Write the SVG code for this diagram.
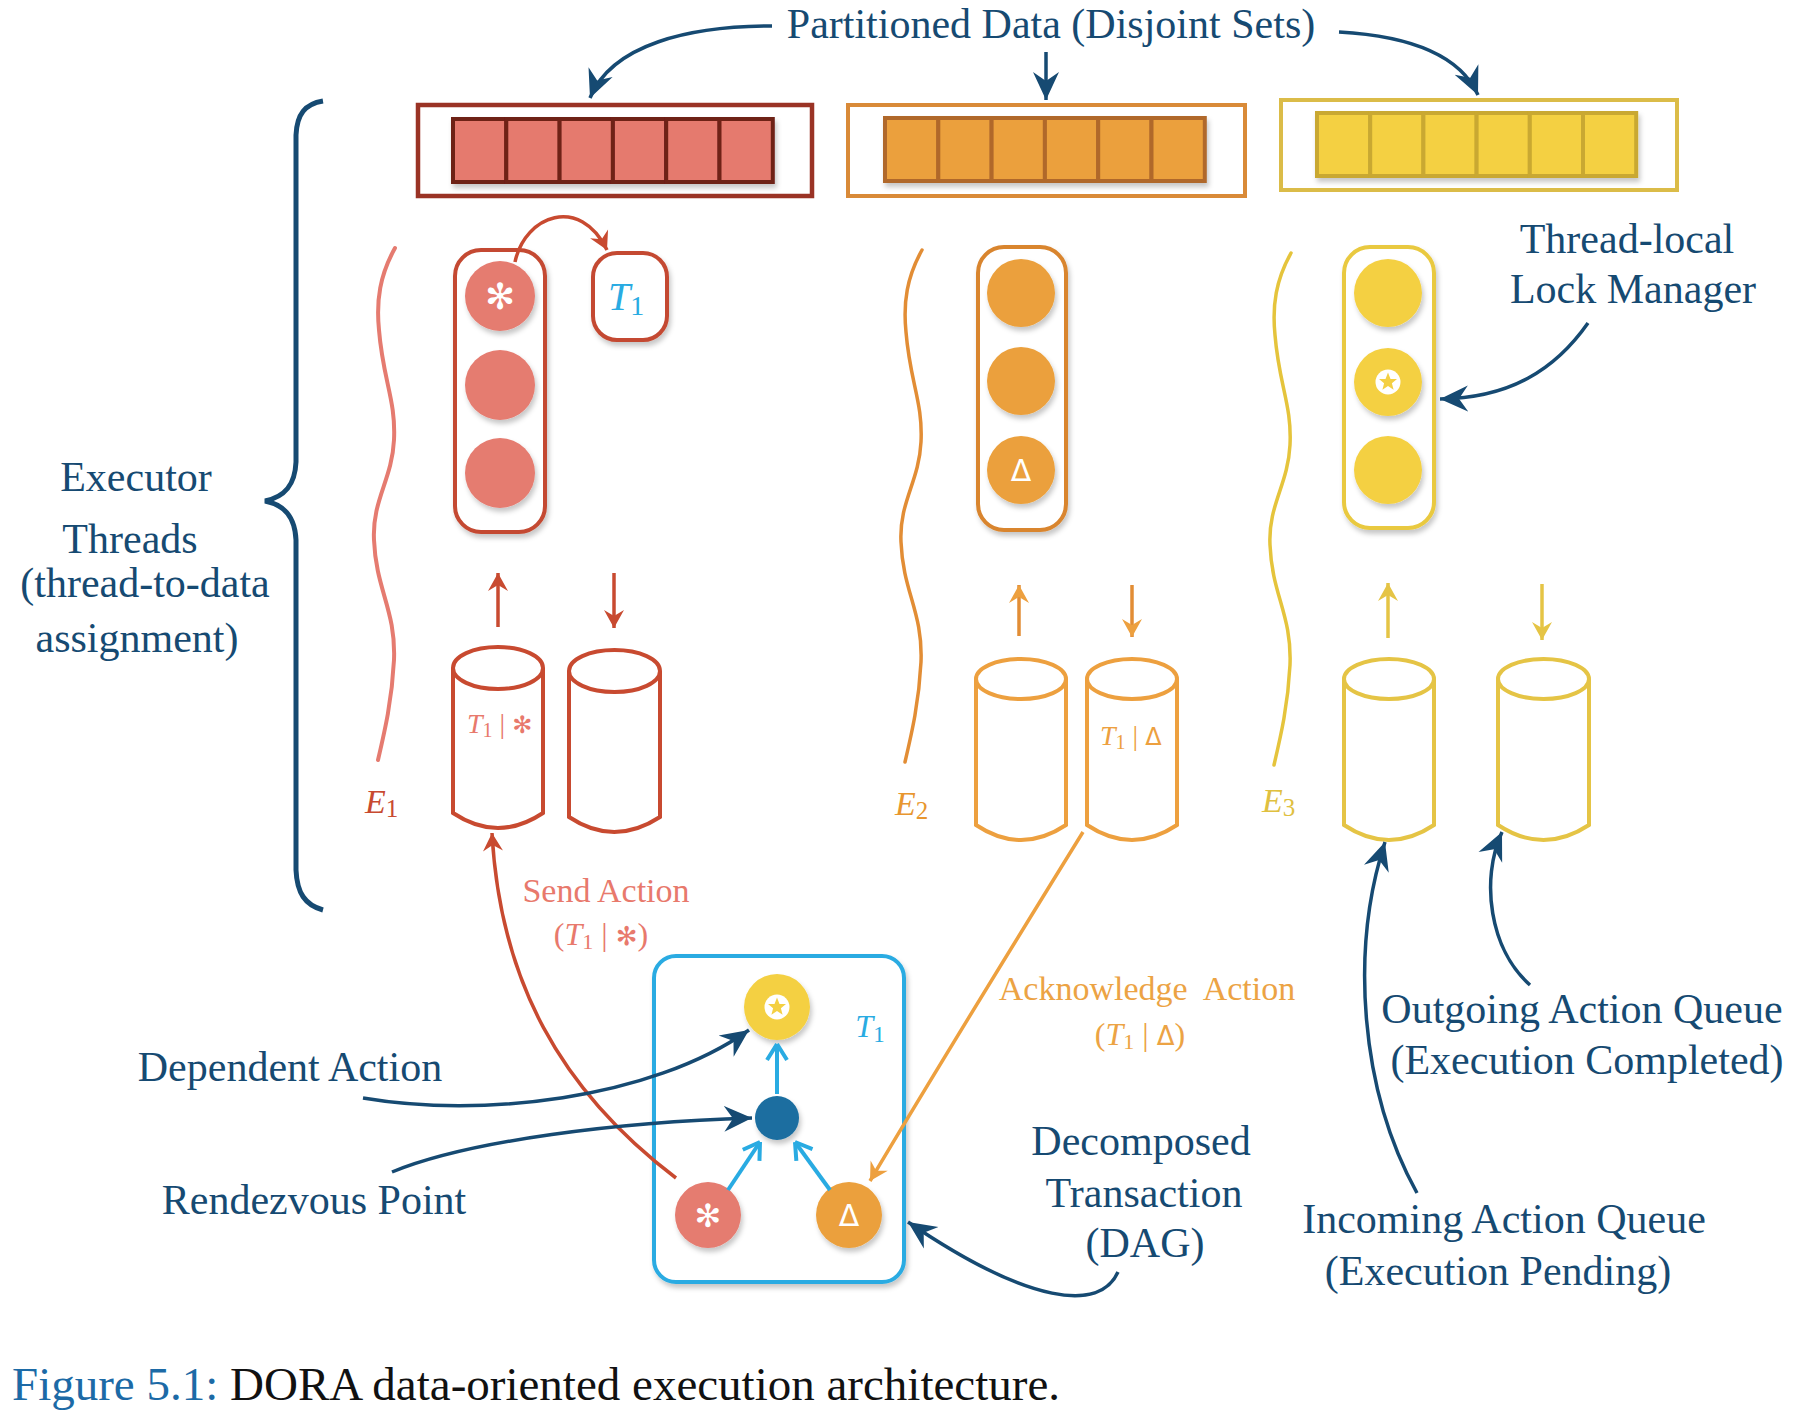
<svg xmlns="http://www.w3.org/2000/svg" width="1807" height="1420" viewBox="0 0 1807 1420">
<defs>
<style>
.t{font-family:"Liberation Serif","Times New Roman",serif;fill:#164a72;font-size:42px;text-anchor:middle}
.m{font-family:"Liberation Serif","Times New Roman",serif}
.sym{font-family:"DejaVu Sans",sans-serif}
.cylR{fill:none;stroke:#c84a30;stroke-width:4}
.cylO{fill:none;stroke:#eda03f;stroke-width:4}
.cylY{fill:none;stroke:#e5c445;stroke-width:4}
.cellR{fill:#e57a6e;stroke:#6e2018;stroke-width:4}
.cellO{fill:#eba03c;stroke:#b0682a;stroke-width:4}
.cellY{fill:#f4d043;stroke:#c9a830;stroke-width:4}
.cR{fill:#e57b70}
.cO{fill:#eba03c}
.cY{fill:#f4d043}
.db{fill:none;stroke:#164a72;stroke-width:3.5}
.lb{fill:none;stroke:#29abe2;stroke-width:4}
</style>
<filter id="sh" x="-20%" y="-20%" width="140%" height="140%">
<feDropShadow dx="2" dy="4" stdDeviation="2.5" flood-color="#000" flood-opacity="0.22"/>
</filter>
<marker id="mB" viewBox="-28 -14 30 28" refX="0" refY="0" markerWidth="30" markerHeight="28" orient="auto" markerUnits="userSpaceOnUse">
<path d="M0,0 L-28,-13 L-19,0 L-28,13 Z" fill="#164a72"/>
</marker>
<marker id="mR" viewBox="-20 -12 22 24" refX="0" refY="0" markerWidth="22" markerHeight="24" orient="auto" markerUnits="userSpaceOnUse">
<path d="M0,0 L-18,-10 L-12,0 L-18,10 Z" fill="#c84a30"/>
</marker>
<marker id="mO" viewBox="-20 -12 22 24" refX="0" refY="0" markerWidth="22" markerHeight="24" orient="auto" markerUnits="userSpaceOnUse">
<path d="M0,0 L-18,-10 L-12,0 L-18,10 Z" fill="#eda03f"/>
</marker>
<marker id="mY" viewBox="-20 -12 22 24" refX="0" refY="0" markerWidth="22" markerHeight="24" orient="auto" markerUnits="userSpaceOnUse">
<path d="M0,0 L-18,-10 L-12,0 L-18,10 Z" fill="#e5c445"/>
</marker>
<marker id="mL" viewBox="-20 -12 22 24" refX="0" refY="0" markerWidth="22" markerHeight="24" orient="auto" markerUnits="userSpaceOnUse">
<path d="M0,0 L-16,-10 M0,0 L-16,10" fill="none" stroke="#29abe2" stroke-width="4"/>
</marker>
<g id="star">
<circle r="12.5" fill="#fff"/>
<polygon points="0,-9.5 2.5,-3.1 9,-2.9 3.9,1.2 5.6,7.7 0,4 -5.6,7.7 -3.9,1.2 -9,-2.9 -2.5,-3.1" fill="#f4d043"/>
</g>
</defs>
<rect width="1807" height="1420" fill="#fff"/>

<!-- Title -->
<g id="title">
<text class="t" x="1051" y="38" font-size="42">Partitioned Data (Disjoint Sets)</text>
</g>

<!-- Data partitions -->
<g id="data-red">
<rect x="418" y="105" width="394" height="91" fill="#fff" stroke="#9a3325" stroke-width="4.5"/>
<g filter="url(#sh)">
<rect class="cellR" x="453" y="119" width="53.3" height="63"/>
<rect class="cellR" x="506.3" y="119" width="53.3" height="63"/>
<rect class="cellR" x="559.6" y="119" width="53.3" height="63"/>
<rect class="cellR" x="612.9" y="119" width="53.3" height="63"/>
<rect class="cellR" x="666.2" y="119" width="53.3" height="63"/>
<rect class="cellR" x="719.5" y="119" width="53.3" height="63"/>
</g>
</g>
<g id="data-orange">
<rect x="848" y="105" width="397" height="91" fill="#fff" stroke="#d98a38" stroke-width="4"/>
<g filter="url(#sh)">
<rect class="cellO" x="885" y="118" width="53.3" height="63"/>
<rect class="cellO" x="938.3" y="118" width="53.3" height="63"/>
<rect class="cellO" x="991.6" y="118" width="53.3" height="63"/>
<rect class="cellO" x="1044.9" y="118" width="53.3" height="63"/>
<rect class="cellO" x="1098.2" y="118" width="53.3" height="63"/>
<rect class="cellO" x="1151.5" y="118" width="53.3" height="63"/>
</g>
</g>
<g id="data-yellow">
<rect x="1281" y="100" width="396" height="90" fill="#fff" stroke="#dbbc48" stroke-width="4"/>
<g filter="url(#sh)">
<rect class="cellY" x="1317" y="113" width="53.2" height="63"/>
<rect class="cellY" x="1370.2" y="113" width="53.2" height="63"/>
<rect class="cellY" x="1423.4" y="113" width="53.2" height="63"/>
<rect class="cellY" x="1476.6" y="113" width="53.2" height="63"/>
<rect class="cellY" x="1529.8" y="113" width="53.2" height="63"/>
<rect class="cellY" x="1583" y="113" width="53.2" height="63"/>
</g>
</g>

<!-- Executor brace and label -->
<g id="executor-threads">
<path d="M323,101 C305,104 297,114 296,135 L296,462 C295,485 285,497 265,501 C285,505 295,517 296,540 L296,870 C297,893 305,905 323,910" fill="none" stroke="#164a72" stroke-width="5"/>
<text class="t" x="136" y="491">Executor</text>
<text class="t" x="130" y="553">Threads</text>
<text class="t" x="145" y="597">(thread-to-data</text>
<text class="t" x="137" y="652">assignment)</text>
</g>

<!-- Executor squiggles -->
<g id="thread-E1">
<path d="M395,248 C380,275 376,300 379,330 C383,380 396,400 394,440 C392,480 372,500 374,540 C376,590 396,610 394,660 C392,700 385,730 378,760" fill="none" stroke="#e57b70" stroke-width="4" stroke-linecap="round"/>
<text class="m" x="365" y="813" font-size="34" font-style="italic" fill="#c84a30">E<tspan font-size="25" font-style="normal" dy="4">1</tspan></text>
</g>
<g id="thread-E2">
<path transform="translate(527,2)" d="M395,248 C380,275 376,300 379,330 C383,380 396,400 394,440 C392,480 372,500 374,540 C376,590 396,610 394,660 C392,700 385,730 378,760" fill="none" stroke="#e28d35" stroke-width="3.5" stroke-linecap="round"/>
<text class="m" x="895" y="815" font-size="34" font-style="italic" fill="#e8962f">E<tspan font-size="25" font-style="normal" dy="4">2</tspan></text>
</g>
<g id="thread-E3">
<path transform="translate(896,5)" d="M395,248 C380,275 376,300 379,330 C383,380 396,400 394,440 C392,480 372,500 374,540 C376,590 396,610 394,660 C392,700 385,730 378,760" fill="none" stroke="#e5c43c" stroke-width="3.5" stroke-linecap="round"/>
<text class="m" x="1262" y="812" font-size="34" font-style="italic" fill="#e0c040">E<tspan font-size="25" font-style="normal" dy="4">3</tspan></text>
</g>

<!-- Lock managers -->
<g id="lock-manager-red">
<rect x="455" y="250" width="90" height="282" rx="26" fill="#fff" stroke="#c44a32" stroke-width="4" filter="url(#sh)"/>
<g filter="url(#sh)">
<circle class="cR" cx="500" cy="296" r="35"/>
<circle class="cR" cx="500" cy="385" r="35"/>
<circle class="cR" cx="500" cy="473" r="35"/>
</g>
<text class="sym" x="500" y="309" font-size="36" fill="#fff" text-anchor="middle">✻</text>
</g>
<g id="t1-box">
<rect x="593" y="253" width="74" height="87" rx="24" fill="#fff" stroke="#c44a32" stroke-width="4" filter="url(#sh)"/>
<text class="m" x="626" y="310" font-size="40" font-style="italic" fill="#29abe2" text-anchor="middle">T<tspan font-size="28" font-style="normal" dy="5">1</tspan></text>
</g>
<g id="lock-manager-orange">
<rect x="978" y="247" width="88" height="283" rx="26" fill="#fff" stroke="#d9852f" stroke-width="4" filter="url(#sh)"/>
<g filter="url(#sh)">
<circle class="cO" cx="1021" cy="293" r="34"/>
<circle class="cO" cx="1021" cy="381" r="34"/>
<circle class="cO" cx="1021" cy="470" r="34"/>
</g>
<text class="sym" x="1021" y="481" font-size="30" fill="#fff" text-anchor="middle">Δ</text>
</g>
<g id="lock-manager-yellow">
<rect x="1344" y="247" width="90" height="281" rx="26" fill="#fff" stroke="#e9c93f" stroke-width="4" filter="url(#sh)"/>
<g filter="url(#sh)">
<circle class="cY" cx="1388" cy="293" r="34"/>
<circle class="cY" cx="1388" cy="382" r="34"/>
<circle class="cY" cx="1388" cy="470" r="34"/>
</g>
<use href="#star" x="1388" y="382"/>
</g>
<g id="lock-manager-label">
<text class="t" x="1627" y="253">Thread-local</text>
<text class="t" x="1633" y="303">Lock Manager</text>
</g>

<!-- Queues -->
<g id="queue-red-in">
<path class="cylR" d="M453,668 L453,813 Q498,843 543,813 L543,668"/>
<ellipse class="cylR" cx="498" cy="668" rx="45" ry="21"/>
<text class="m" x="467" y="733" font-size="28" fill="#e8796c"><tspan font-style="italic">T</tspan><tspan font-size="20" dy="4">1</tspan><tspan dy="-4"> | </tspan><tspan class="sym" font-size="24">✻</tspan></text>
</g>
<g id="queue-red-out">
<path class="cylR" d="M569,671 L569,817 Q614,847 660,817 L660,671"/>
<ellipse class="cylR" cx="614.5" cy="671" rx="45.5" ry="21"/>
</g>
<g id="queue-orange-in">
<path class="cylO" d="M976,679 L976,825 Q1021,855 1066,825 L1066,679"/>
<ellipse class="cylO" cx="1021" cy="679" rx="45" ry="20"/>
</g>
<g id="queue-orange-out">
<path class="cylO" d="M1087,679 L1087,825 Q1132,855 1177,825 L1177,679"/>
<ellipse class="cylO" cx="1132" cy="679" rx="45" ry="20"/>
<text class="m" x="1100" y="745" font-size="28" fill="#eda03f"><tspan font-style="italic">T</tspan><tspan font-size="20" dy="4">1</tspan><tspan dy="-4"> | </tspan><tspan class="sym" font-size="24">Δ</tspan></text>
</g>
<g id="queue-yellow-in">
<path class="cylY" d="M1344,679 L1344,825 Q1389,855 1434,825 L1434,679"/>
<ellipse class="cylY" cx="1389" cy="679" rx="45" ry="20"/>
</g>
<g id="queue-yellow-out">
<path class="cylY" d="M1498,679 L1498,825 Q1543.5,855 1589,825 L1589,679"/>
<ellipse class="cylY" cx="1543.5" cy="679" rx="45.5" ry="20"/>
</g>
<g id="queue-labels">
<text class="t" x="1582" y="1023" font-size="43">Outgoing Action Queue</text>
<text class="t" x="1587" y="1074" font-size="43">(Execution Completed)</text>
<text class="t" x="1504" y="1233" font-size="43">Incoming Action Queue</text>
<text class="t" x="1498" y="1285" font-size="43">(Execution Pending)</text>
</g>

<!-- DAG -->
<g id="dag">
<rect x="654" y="956" width="250" height="326" rx="22" fill="#fff" stroke="#29abe2" stroke-width="4" filter="url(#sh)"/>
<text class="m" x="870" y="1037" font-size="32" font-style="italic" fill="#29abe2" text-anchor="middle">T<tspan font-size="23" font-style="normal" dy="5">1</tspan></text>
</g>
<g id="dag-star-node" filter="url(#sh)">
<circle class="cY" cx="777" cy="1007" r="33"/>
<use href="#star" x="777" y="1007"/>
</g>
<g id="rendezvous-node">
<circle cx="777" cy="1118" r="22" fill="#1a6ea0" filter="url(#sh)"/>
</g>
<g id="dag-red-node">
<circle class="cR" cx="708" cy="1215" r="33" filter="url(#sh)"/>
<text class="sym" x="708" y="1227" font-size="32" fill="#fff" text-anchor="middle">✻</text>
</g>
<g id="dag-orange-node">
<circle class="cO" cx="849" cy="1215" r="33" filter="url(#sh)"/>
<text class="sym" x="849" y="1226" font-size="30" fill="#fff" text-anchor="middle">Δ</text>
</g>
<g id="dag-labels">
<text class="t" x="290" y="1081">Dependent Action</text>
<text class="t" x="314" y="1214">Rendezvous Point</text>
<text class="t" x="1141" y="1155">Decomposed</text>
<text class="t" x="1144" y="1207">Transaction</text>
<text class="t" x="1145" y="1257">(DAG)</text>
</g>

<!-- Action labels -->
<g id="action-labels">
<text class="m" x="606" y="902" font-size="34" fill="#e8796c" text-anchor="middle">Send Action</text>
<text class="m" x="601" y="945" font-size="32" fill="#e8796c" text-anchor="middle">(<tspan font-style="italic">T</tspan><tspan font-size="22" dy="4">1</tspan><tspan dy="-4"> | </tspan><tspan class="sym" font-size="26">✻</tspan>)</text>
<text class="m" x="1147" y="1000" font-size="34" fill="#eca344" text-anchor="middle" xml:space="preserve">Acknowledge  Action</text>
<text class="m" x="1140" y="1045" font-size="32" fill="#eca344" text-anchor="middle">(<tspan font-style="italic">T</tspan><tspan font-size="22" dy="4">1</tspan><tspan dy="-4"> | </tspan><tspan class="sym" font-size="26">Δ</tspan>)</text>
</g>

<!-- Connectors -->
<g id="connectors">
<path class="db" d="M772,26 C690,26 612,44 590,98" marker-end="url(#mB)"/>
<path class="db" d="M1046,52 L1046,100" marker-end="url(#mB)"/>
<path class="db" d="M1339,32 C1410,36 1460,55 1478,95" marker-end="url(#mB)"/>
<path class="db" d="M1588,323 C1555,370 1510,398 1440,399" marker-end="url(#mB)"/>
<path d="M515,262 C525,215 580,195 607,250" fill="none" stroke="#c84a30" stroke-width="3.5" marker-end="url(#mR)"/>
<path d="M498,627 L498,573" stroke="#c84a30" stroke-width="3.5" marker-end="url(#mR)"/>
<path d="M614,573 L614,628" stroke="#c84a30" stroke-width="3.5" marker-end="url(#mR)"/>
<path d="M1019,636 L1019,585" stroke="#e28d35" stroke-width="3.5" marker-end="url(#mO)"/>
<path d="M1132,585 L1132,637" stroke="#e28d35" stroke-width="3.5" marker-end="url(#mO)"/>
<path d="M1388,638 L1388,583" stroke="#e5c445" stroke-width="3.5" marker-end="url(#mY)"/>
<path d="M1542,584 L1542,640" stroke="#e5c445" stroke-width="3.5" marker-end="url(#mY)"/>
<path d="M676,1178 C560,1090 500,980 492,833" fill="none" stroke="#c84a30" stroke-width="3.5" marker-end="url(#mR)"/>
<path d="M1083,832 C1010,950 930,1080 870,1181" fill="none" stroke="#eda03f" stroke-width="3.5" marker-end="url(#mO)"/>
<path class="db" d="M363,1098 C480,1118 650,1100 749,1030" marker-end="url(#mB)"/>
<path class="db" d="M392,1172 C470,1140 620,1122 752,1118" marker-end="url(#mB)"/>
<path class="db" d="M1118,1272 C1100,1312 1030,1305 908,1222" marker-end="url(#mB)"/>
<path class="db" d="M1417,1193 C1360,1090 1350,950 1385,842" marker-end="url(#mB)"/>
<path class="db" d="M1530,985 C1490,950 1480,880 1502,832" marker-end="url(#mB)"/>
<path class="lb" d="M777,1094 L777,1044" marker-end="url(#mL)"/>
<path class="lb" d="M728,1190 L760,1142" marker-end="url(#mL)"/>
<path class="lb" d="M830,1190 L795,1142" marker-end="url(#mL)"/>
</g>

<!-- Caption -->
<g id="caption">
<text class="m" x="12" y="1400" font-size="47" fill="#111"><tspan fill="#1c6aa6">Figure 5.1:</tspan> DORA data-oriented execution architecture.</text>
</g>
</svg>
